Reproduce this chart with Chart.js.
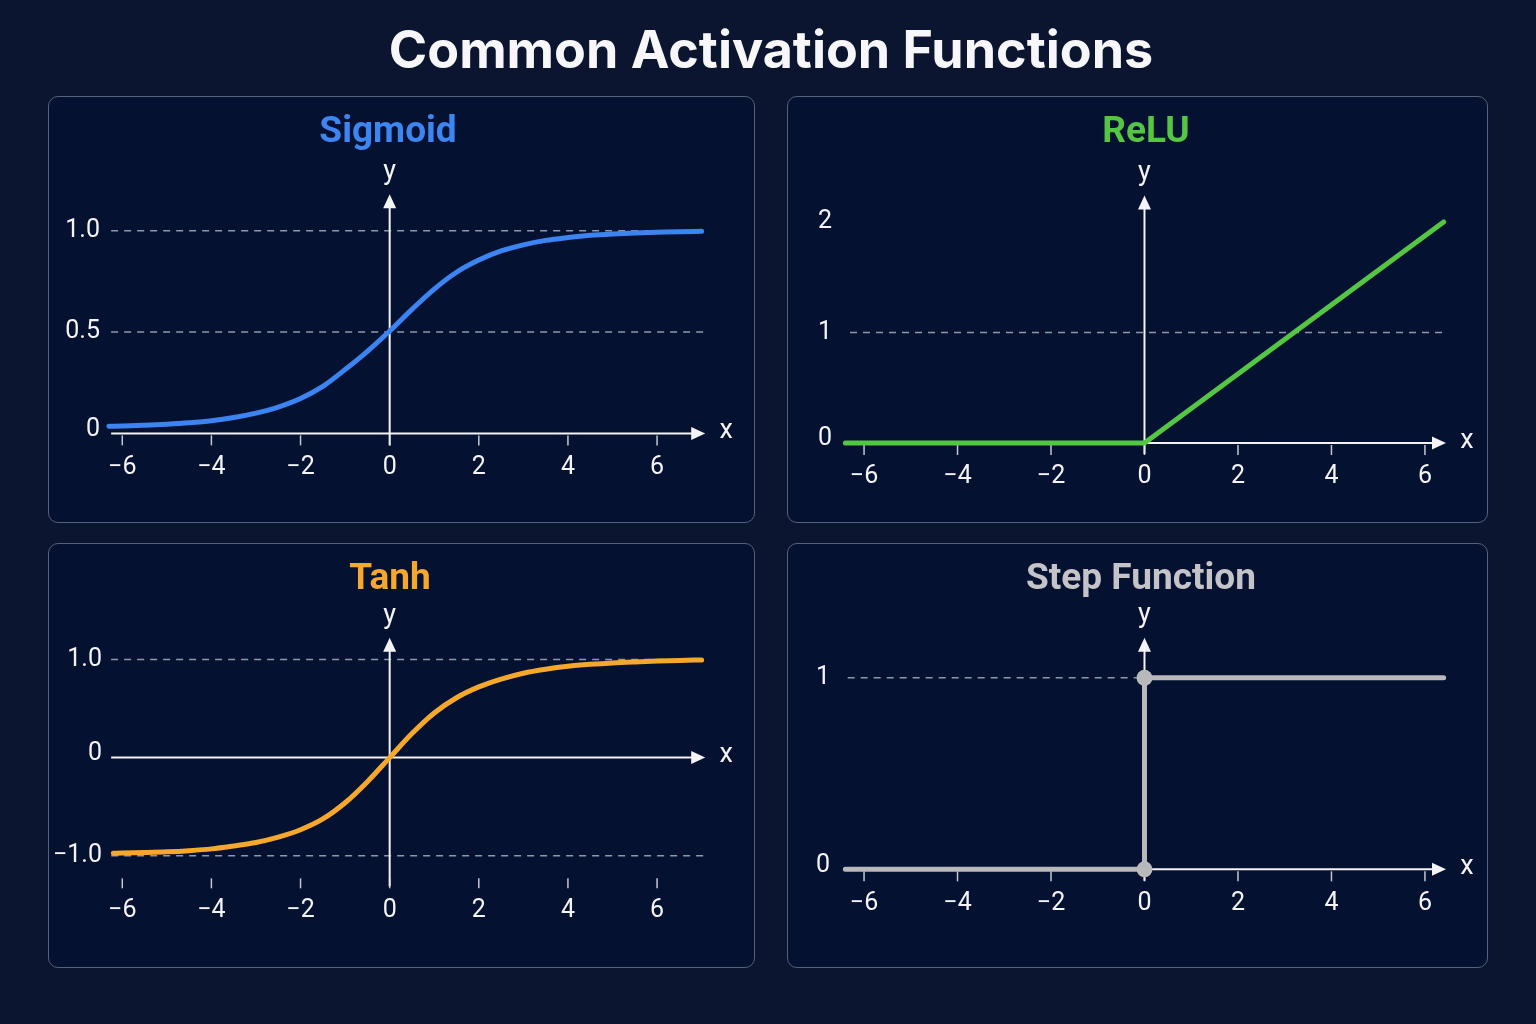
<!DOCTYPE html>
<html lang="en">
  <head>
    <meta charset="UTF-8" />
    <title>Common Activation Functions</title>
    <script src="https://cdn.jsdelivr.net/npm/chart.js@4.4.1/dist/chart.umd.min.js"></script>
    <style>
      body {
        margin: 0;
        width: 1536px;
        height: 1024px;
        background: #0b1530;
        overflow: hidden;
        position: relative;
        font-family: Inter, 'Noto Sans', sans-serif;
      }
      h1 {
        position: absolute;
        left: 0;
        top: 20px;
        width: 1542px;
        margin: 0;
        text-align: center;
        color: #f7f7f9;
        font-size: 52px;
        line-height: 60px;
        font-weight: 700;
      }
      .panel {
        position: absolute;
        box-sizing: border-box;
        border: 1.5px solid #56617a;
        border-radius: 10px;
        background: #051130;
        overflow: hidden;
      }
      .panel canvas {
        position: absolute;
        left: -1.5px;
        top: -1.5px;
      }
    </style>
  </head>
  <body>
    <h1>Common Activation Functions</h1>
    <div class="panel" id="p1" style="left:48px;top:96px;width:707px;height:427px"><canvas id="c1" width="707" height="427"></canvas></div>
    <div class="panel" id="p2" style="left:787px;top:96px;width:701px;height:427px"><canvas id="c2" width="701" height="427"></canvas></div>
    <div class="panel" id="p3" style="left:48px;top:543px;width:707px;height:425px"><canvas id="c3" width="707" height="425"></canvas></div>
    <div class="panel" id="p4" style="left:787px;top:543px;width:701px;height:425px"><canvas id="c4" width="701" height="425"></canvas></div>
    <script>
      // values
      const xTicks = [-6, -4, -2, 0, 2, 4, 6]

      const sigmoidX = [-6.3, -6, -5.5, -5, -4.5, -4, -3.5, -3, -2.5, -2, -1.5, -1, -0.5, 0, 0.5, 1, 1.5, 2, 2.5, 3, 3.5, 4, 4.5, 5, 5.5, 6, 6.5, 7]
      const sigmoidY = [0.035, 0.036, 0.04, 0.045, 0.052, 0.062, 0.078, 0.1, 0.13, 0.172, 0.232, 0.315, 0.405, 0.505, 0.612, 0.712, 0.795, 0.855, 0.9, 0.93, 0.952, 0.966, 0.977, 0.984, 0.989, 0.992, 0.995, 0.997]
      const sigmoidTicks = [0, 0.5, 1.0]
      const sigmoidLabels = ['0', '0.5', '1.0']
      const sigmoidGrid = [0.5, 1.0]

      const reluX = [-6.4, 0, 6.4]
      const reluY = [0, 0, 2.0]
      const reluTicks = [0, 1, 2]
      const reluLabels = ['0', '1', '2']
      const reluGrid = [1]

      const tanhX = [-6.2, -6, -5.5, -5, -4.5, -4, -3.5, -3, -2.5, -2, -1.5, -1, -0.5, 0, 0.5, 1, 1.5, 2, 2.5, 3, 3.5, 4, 4.5, 5, 5.5, 6, 6.5, 7]
      const tanhY = [-0.975, -0.972, -0.967, -0.96, -0.948, -0.93, -0.9, -0.865, -0.81, -0.735, -0.625, -0.46, -0.245, 0, 0.245, 0.455, 0.61, 0.72, 0.8, 0.86, 0.9, 0.93, 0.95, 0.965, 0.975, 0.983, 0.99, 0.995]
      const tanhTicks = [-1.0, 0, 1.0]
      const tanhLabels = ['\u22121.0', '0', '1.0']
      const tanhGrid = [-1.0, 1.0]

      const stepX = [-6.4, 0, 0, 6.4]
      const stepY = [0, 0, 1, 1]
      const stepTicks = [0, 1]
      const stepLabels = ['0', '1']
      const stepGrid = [1]

      const fmtX = (v) => (v < 0 ? '\u2212' + Math.abs(v) : String(v))

      const arrow = (ctx, x, y, dir) => {
        ctx.beginPath()
        if (dir === 'right') {
          ctx.moveTo(x, y)
          ctx.lineTo(x - 14, y - 6.5)
          ctx.lineTo(x - 14, y + 6.5)
        } else {
          ctx.moveTo(x, y)
          ctx.lineTo(x - 6.5, y + 14)
          ctx.lineTo(x + 6.5, y + 14)
        }
        ctx.closePath()
        ctx.fill()
      }

      const axesPlugin = {
        id: 'axes',
        beforeDatasetsDraw(chart, args, o) {
          const { ctx } = chart
          const sx = chart.scales.x
          const sy = chart.scales.y
          const white = '#f4f4f6'
          ctx.save()

          // dashed reference lines
          ctx.strokeStyle = 'rgba(190,196,210,0.75)'
          ctx.lineWidth = 1.5
          ctx.setLineDash([7, 6])
          o.grid.forEach((v) => {
            const py = sy.getPixelForValue(v)
            ctx.beginPath()
            ctx.moveTo(sx.getPixelForValue(o.gridFrom), py)
            ctx.lineTo(sx.getPixelForValue(o.gridTo), py)
            ctx.stroke()
          })
          ctx.setLineDash([])

          // axes
          ctx.strokeStyle = white
          ctx.fillStyle = white
          ctx.lineWidth = 2
          const y0 = sy.getPixelForValue(0)
          const x0 = sx.getPixelForValue(0)
          const xa = sx.getPixelForValue(o.xFrom)
          const xb = sx.getPixelForValue(o.xTo)
          const ya = sy.getPixelForValue(o.yFrom)
          const yb = sy.getPixelForValue(o.yTo)
          ctx.beginPath()
          ctx.moveTo(xa, y0)
          ctx.lineTo(xb - 10, y0)
          ctx.moveTo(x0, ya)
          ctx.lineTo(x0, yb + 10)
          ctx.stroke()
          arrow(ctx, xb, y0, 'right')
          arrow(ctx, x0, yb, 'up')

          ctx.font = '27px Roboto'
          ctx.textAlign = 'center'
          ctx.textBaseline = 'middle'
          ctx.fillText('x', xb + 21, y0 - 2)
          ctx.fillText('y', x0, yb - 22)

          // x ticks
          const ty = sy.getPixelForValue(o.tickAt) + 2
          ctx.lineWidth = 1.5
          ctx.strokeStyle = 'rgba(230,232,238,0.85)'
          ctx.font = '25px Roboto'
          xTicks.forEach((v) => {
            const px = sx.getPixelForValue(v)
            ctx.beginPath()
            ctx.moveTo(px, ty)
            ctx.lineTo(px, ty + 10)
            ctx.stroke()
            ctx.fillText(fmtX(v), px, ty + 32)
          })

          // y tick labels
          ctx.textAlign = 'right'
          o.yTicks.forEach((v, i) => {
            ctx.fillText(o.yLabels[i], o.yLabelX, sy.getPixelForValue(v) - (v === 0 ? 4 : 0))
          })
          ctx.restore()
        },
        afterDraw(chart, args, o) {
          const { ctx } = chart
          ctx.save()
          ctx.font = 'bold 37px Roboto'
          ctx.fillStyle = o.titleColor
          ctx.textAlign = 'center'
          ctx.textBaseline = 'middle'
          ctx.fillText(o.title, o.titleX, 37)
          ctx.restore()
        },
      }

      const makeChart = (id, xs, ys, color, ext, axes, extra) => {
        const points = xs.map((x, i) => ({ x: x, y: ys[i] }))
        return new Chart(document.getElementById(id), {
          type: 'line',
          data: {
            datasets: [
              Object.assign(
                {
                  data: points,
                  borderColor: color,
                  backgroundColor: color,
                  borderWidth: 5,
                  pointRadius: 0,
                  borderCapStyle: 'round',
                  borderJoinStyle: 'round',
                  clip: false,
                },
                extra
              ),
            ],
          },
          options: {
            responsive: false,
            animation: false,
            events: [],
            layout: { padding: ext.pad },
            plugins: {
              legend: { display: false },
              tooltip: { enabled: false },
              axes: axes,
            },
            scales: {
              x: { type: 'linear', min: ext.xMin, max: ext.xMax, display: false },
              y: { type: 'linear', min: ext.yMin, max: ext.yMax, display: false },
            },
          },
          plugins: [axesPlugin],
        })
      }

      makeChart(
        'c1', sigmoidX, sigmoidY, '#3b84f2',
        { pad: { left: 52, right: 40, top: 84, bottom: 43 }, xMin: -6.5, xMax: 7.3, yMin: -0.23, yMax: 1.25 },
        {
          title: 'Sigmoid', titleColor: '#3d86f2', titleX: 340,
          grid: sigmoidGrid, gridFrom: -6.25, gridTo: 7.05,
          xFrom: -6.25, xTo: 7.08, yFrom: -0.06, yTo: 1.18,
          tickAt: 0, yTicks: sigmoidTicks, yLabels: sigmoidLabels, yLabelX: 52,
        },
        { cubicInterpolationMode: 'monotone' }
      )

      makeChart(
        'c2', reluX, reluY, '#55c644',
        { pad: { left: 49, right: 28, top: 84, bottom: 33 }, xMin: -6.6, xMax: 6.75, yMin: -0.425, yMax: 2.38 },
        {
          title: 'ReLU', titleColor: '#55c644', titleX: 359,
          grid: reluGrid, gridFrom: -6.3, gridTo: 6.45,
          xFrom: -6.35, xTo: 6.45, yFrom: -0.1, yTo: 2.24,
          tickAt: 0, yTicks: reluTicks, yLabels: reluLabels, yLabelX: 45,
        },
        {}
      )

      makeChart(
        'c3', tanhX, tanhY, '#f5a82c',
        { pad: { left: 52, right: 40, top: 87, bottom: 73 }, xMin: -6.5, xMax: 7.3, yMin: -1.4, yMax: 1.3 },
        {
          title: 'Tanh', titleColor: '#f5a82c', titleX: 342,
          grid: tanhGrid, gridFrom: -6.25, gridTo: 7.05,
          xFrom: -6.25, xTo: 7.08, yFrom: -1.31, yTo: 1.22,
          tickAt: -1.21, yTicks: tanhTicks, yLabels: tanhLabels, yLabelX: 54,
        },
        { cubicInterpolationMode: 'monotone' }
      )

      makeChart(
        'c4', stepX, stepY, '#b9b9bc',
        { pad: { left: 49, right: 28, top: 87, bottom: 68 }, xMin: -6.6, xMax: 6.75, yMin: -0.16, yMax: 1.25 },
        {
          title: 'Step Function', titleColor: '#c4c4c8', titleX: 354,
          grid: stepGrid, gridFrom: -6.35, gridTo: 0,
          xFrom: -6.35, xTo: 6.45, yFrom: -0.06, yTo: 1.21,
          tickAt: 0, yTicks: stepTicks, yLabels: stepLabels, yLabelX: 43,
        },
        { pointRadius: [0, 8, 8, 0], pointBorderWidth: 0, pointBackgroundColor: '#b9b9bc' }
      )
    </script>
  </body>
</html>
